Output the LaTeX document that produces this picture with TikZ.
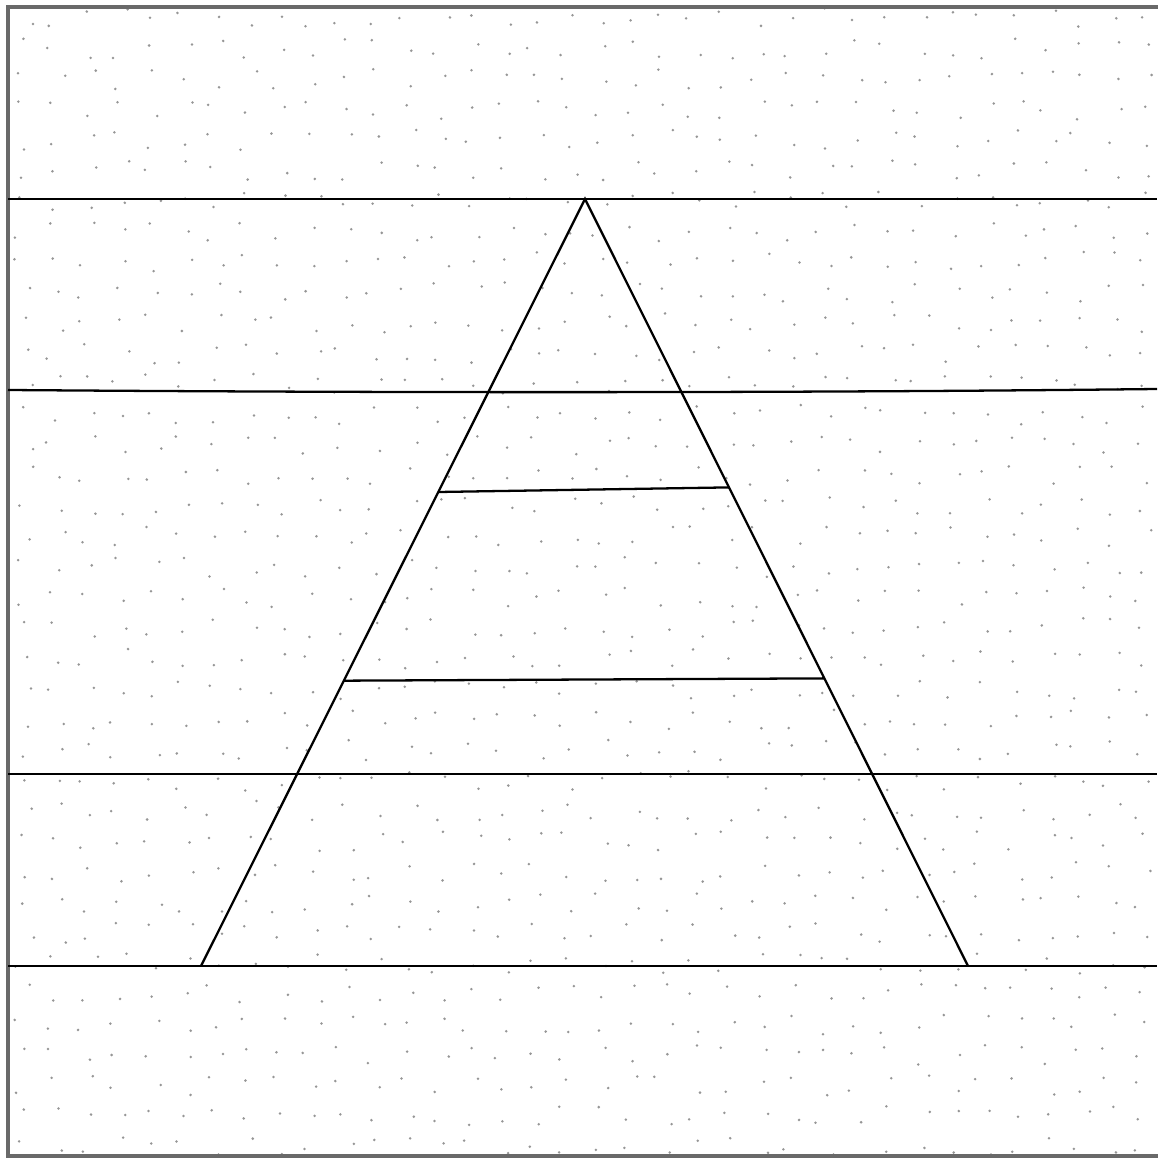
\documentclass[tikz,border=0pt]{standalone}
\usetikzlibrary{calc}
\definecolor{frameGrey}{RGB}{105,105,105}
\definecolor{dotGrey}{RGB}{150,150,150}
\tikzset{
  figline/.style={black,line width=1.3pt},
  frameline/.style={frameGrey,line width=2pt},
}

\begin{document}
\begin{tikzpicture}[x=0.02cm,y=-0.02cm]
\useasboundingbox (0,0) rectangle (1157,1158);
% speckled paper
\pgfmathsetseed{4217}
\foreach \i in {0,...,35} \foreach \j in {0,...,37} {
  \pgfmathsetmacro{\dx}{24+\i*32+rand*10}
  \pgfmathsetmacro{\dy}{18+\j*30.5+rand*10}
  \fill[dotGrey] (\dx,\dy) circle[radius=1.4];
}
\draw[frameline] (8,7) rectangle (1165,1156);
% horizontal bands
\coordinate (bandA-l) at (8,199);  \coordinate (bandA-r) at (1157,199);
\coordinate (bandB-l) at (8,390);  \coordinate (bandB-r) at (1157,389);
\coordinate (bandC-l) at (8,774);  \coordinate (bandC-r) at (1157,774);
\coordinate (bandD-l) at (8,966);  \coordinate (bandD-r) at (1157,966);
\foreach \b in {bandA,bandC,bandD}
  \draw[figline] (\b-l) -- (\b-r);
\draw[figline] (bandB-l) .. controls (400,393) and (800,393) .. (bandB-r);
% triangle
\coordinate (apex) at (585,199);
\coordinate (baseL) at (201,966);
\coordinate (baseR) at (968,966);
\draw[figline] (baseL) -- (apex) -- (baseR);
% cross segments
\coordinate (upL) at ($(apex)!0.382!(baseL)$);
\coordinate (upR) at ($(apex)!0.376!(baseR)$);
\coordinate (loL) at ($(apex)!0.628!(baseL)$);
\coordinate (loR) at ($(apex)!0.625!(baseR)$);
\draw[figline] (upL) -- (upR);
\draw[figline] (loL) -- (loR);
\end{tikzpicture}
\end{document}
